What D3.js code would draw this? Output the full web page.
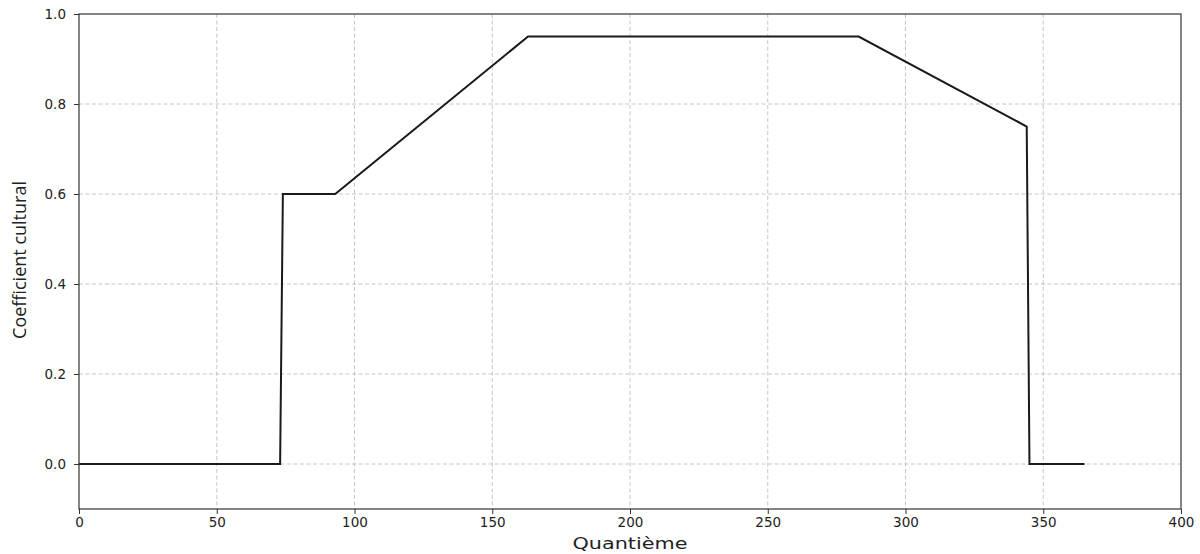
<!DOCTYPE html>
<html><head><meta charset="utf-8">
<script src="https://cdn.jsdelivr.net/npm/d3@7"></script>
<style>body{margin:0;background:#fff}svg{display:block}</style>
</head><body>
<svg id="c" width="1200" height="554"></svg>
<script>
const days = [0, 73, 74, 93, 163, 283, 344, 345, 365];
const kc = [0, 0, 0.6, 0.6, 0.95, 0.95, 0.75, 0, 0];
const xTicks = [0, 50, 100, 150, 200, 250, 300, 350, 400];
const yTicks = [0.0, 0.2, 0.4, 0.6, 0.8, 1.0];
const xLabel = "Quantième";
const yLabel = "Coefficient cultural";

const svg = d3.select("#c");
const L = 79, R = 1181, T = 14, B = 509;
const x = d3.scaleLinear().domain([0, 400]).range([L, R]);
const y = d3.scaleLinear().domain([-0.1, 1.0]).range([B, T]);

const grid = svg.append("g").attr("stroke", "#b8b8b8").attr("stroke-width", 0.8).attr("stroke-dasharray", "4,2.5");
grid.selectAll(".vx").data(xTicks.slice(1, -1)).join("line")
  .attr("x1", d => x(d)).attr("x2", d => x(d)).attr("y1", T).attr("y2", B);
grid.selectAll(".hy").data(yTicks.slice(0, -1)).join("line")
  .attr("y1", d => y(d)).attr("y2", d => y(d)).attr("x1", L).attr("x2", R);

const line = d3.line().x(d => x(d[0])).y(d => y(d[1]));
svg.append("path").datum(days.map((d, i) => [d, kc[i]]))
  .attr("d", line).attr("fill", "none").attr("stroke", "#1a1a1a").attr("stroke-width", 2);

const xAxis = svg.append("g").attr("transform", `translate(0,${B})`)
  .call(d3.axisBottom(x).tickValues(xTicks).tickSize(5).tickPadding(3).tickFormat(d3.format("d")));
const yAxis = svg.append("g").attr("transform", `translate(${L},0)`)
  .call(d3.axisLeft(y).tickValues(yTicks).tickSize(5).tickPadding(8).tickFormat(d3.format(".1f")));
[xAxis, yAxis].forEach(a => {
  a.select(".domain").remove();
  a.selectAll("line").attr("stroke", "#333");
  a.selectAll("text").attr("font-family", "DejaVu Sans").attr("font-size", 13.5).attr("fill", "#222");
});
svg.append("rect").attr("x", L).attr("y", T).attr("width", R - L).attr("height", B - T)
  .attr("fill", "none").attr("stroke", "#333").attr("stroke-width", 1.2);

svg.append("text").attr("x", (L + R) / 2).attr("y", 549).attr("text-anchor", "middle")
  .attr("font-family", "DejaVu Sans").attr("font-size", 15).attr("fill", "#222")
  .attr("textLength", 115).attr("lengthAdjust", "spacingAndGlyphs").text(xLabel);
svg.append("text").attr("transform", `translate(26,260) rotate(-90)`).attr("text-anchor", "middle")
  .attr("font-family", "Open Sans").attr("font-size", 18).attr("fill", "#222").text(yLabel);
</script>
</body></html>
